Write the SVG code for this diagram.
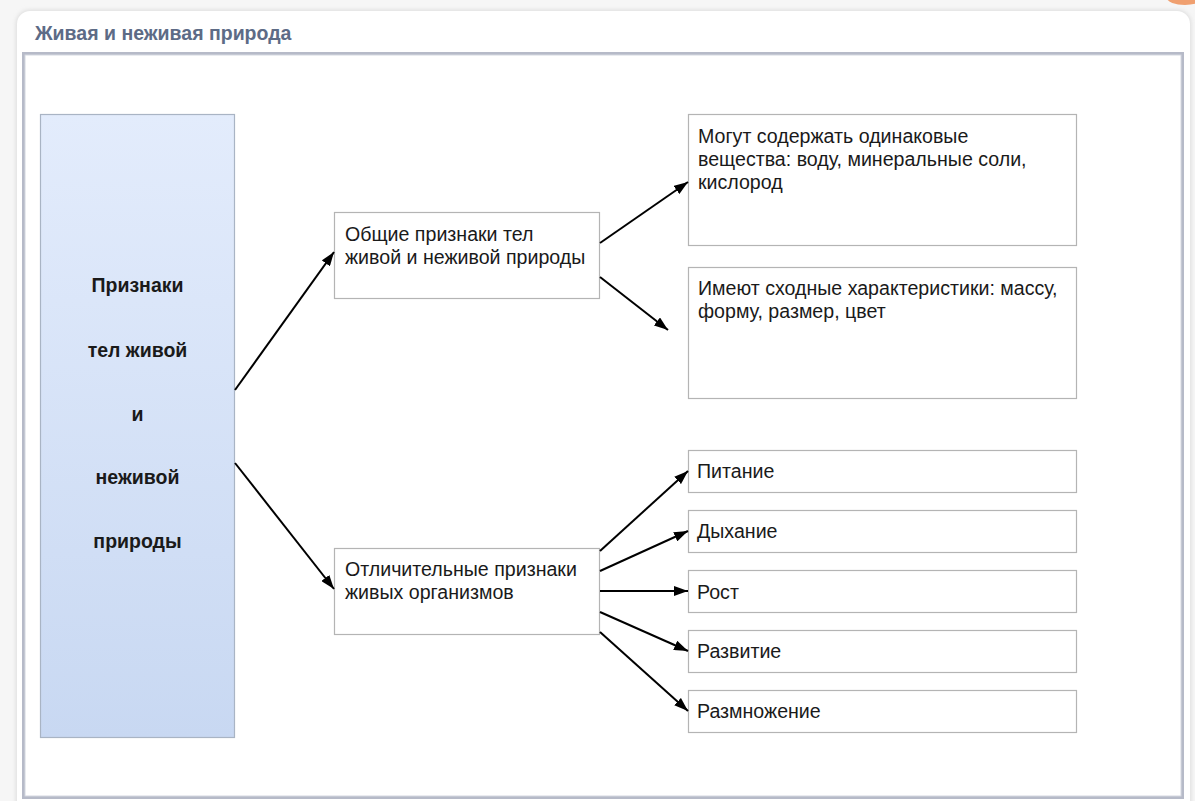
<svg xmlns="http://www.w3.org/2000/svg" width="1195" height="801" viewBox="0 0 1195 801">
<defs>
<linearGradient id="lg" x1="0" y1="0" x2="0" y2="1">
<stop offset="0" stop-color="#e3ecfc"/>
<stop offset="1" stop-color="#c8d8f2"/>
</linearGradient>
<filter id="sh" x="-5%" y="-5%" width="110%" height="110%">
<feGaussianBlur stdDeviation="2"/>
</filter>
<marker id="ah" viewBox="0 0 14 10" refX="14" refY="5" markerWidth="14" markerHeight="10" markerUnits="userSpaceOnUse" orient="auto">
<path d="M0,0 L14,5 L0,10 z" fill="#000"/>
</marker>
</defs>
<style>
.box{fill:#fff;stroke:#b4b4b4;stroke-width:1.2}
.t{font-family:"Liberation Sans",Arial,sans-serif;font-size:19.6px;fill:#1a1a1a}
.b{font-family:"Liberation Sans",Arial,sans-serif;font-size:19.5px;font-weight:bold;fill:#1a1a1a;text-anchor:middle}
.c{stroke:#000;stroke-width:2;fill:none;marker-end:url(#ah)}
</style>
<rect width="1195" height="801" fill="#f6f6f6"/>
<ellipse cx="1185" cy="-2" rx="18" ry="7" fill="#f0a070"/>
<rect x="16" y="10" width="1175" height="810" rx="14" fill="#dcdcdc" filter="url(#sh)"/>
<rect x="17" y="11" width="1173" height="810" rx="13" fill="#fff"/>
<text x="35" y="40" font-family="'Liberation Sans',Arial,sans-serif" font-size="19.5" font-weight="bold" fill="#5d6b86">Живая и неживая природа</text>
<rect x="23.5" y="53.5" width="1159" height="744" fill="#fff" stroke="#b6bac8" stroke-width="3"/>
<rect x="25" y="55" width="1156" height="741" fill="none" stroke="#d4d7e0" stroke-width="1"/>

<g id="n-main">
<rect x="40.5" y="114.5" width="194" height="623" fill="url(#lg)" stroke="#a9b4c4" stroke-width="1.2"/>
<text class="b" x="137.5" y="292">Признаки</text>
<text class="b" x="137.5" y="357">тел живой</text>
<text class="b" x="137.5" y="421">и</text>
<text class="b" x="137.5" y="484">неживой</text>
<text class="b" x="137.5" y="548">природы</text>
</g>
<g id="n-common">
<rect class="box" x="334.5" y="212.5" width="265" height="86"/>
<text class="t" x="345" y="241">Общие признаки тел</text>
<text class="t" x="345" y="264">живой и неживой природы</text>
</g>
<g id="n-distinct">
<rect class="box" x="334.5" y="548.5" width="265" height="86"/>
<text class="t" x="345" y="576">Отличительные признаки</text>
<text class="t" x="345" y="599">живых организмов</text>
</g>
<g id="n-substances">
<rect class="box" x="688.5" y="114.5" width="388" height="131"/>
<text class="t" x="698" y="143">Могут содержать одинаковые</text>
<text class="t" x="698" y="166">вещества: воду, минеральные соли,</text>
<text class="t" x="698" y="189">кислород</text>
</g>
<g id="n-properties">
<rect class="box" x="688.5" y="267.5" width="388" height="131"/>
<text class="t" x="698" y="295">Имеют сходные характеристики: массу,</text>
<text class="t" x="698" y="318">форму, размер, цвет</text>
</g>
<g id="n-nutrition">
<rect class="box" x="688.5" y="450.5" width="388" height="42"/>
<text class="t" x="697" y="478">Питание</text>
</g>
<g id="n-breathing">
<rect class="box" x="688.5" y="510.5" width="388" height="42"/>
<text class="t" x="697" y="538">Дыхание</text>
</g>
<g id="n-growth">
<rect class="box" x="688.5" y="570.5" width="388" height="42"/>
<text class="t" x="697" y="599">Рост</text>
</g>
<g id="n-development">
<rect class="box" x="688.5" y="630.5" width="388" height="42"/>
<text class="t" x="697" y="658">Развитие</text>
</g>
<g id="n-reproduction">
<rect class="box" x="688.5" y="690.5" width="388" height="42"/>
<text class="t" x="697" y="718">Размножение</text>
</g>

<g id="connectors">
<line class="c" x1="235" y1="390" x2="334" y2="252"/>
<line class="c" x1="235" y1="463" x2="334" y2="589"/>
<line class="c" x1="600" y1="243" x2="688" y2="182"/>
<line class="c" x1="600" y1="277" x2="668" y2="330"/>
<line class="c" x1="600" y1="551" x2="688" y2="471"/>
<line class="c" x1="600" y1="571" x2="688" y2="531"/>
<line class="c" x1="600" y1="591" x2="688" y2="591"/>
<line class="c" x1="600" y1="612" x2="688" y2="651"/>
<line class="c" x1="600" y1="632" x2="688" y2="711"/>
</g>
</svg>
